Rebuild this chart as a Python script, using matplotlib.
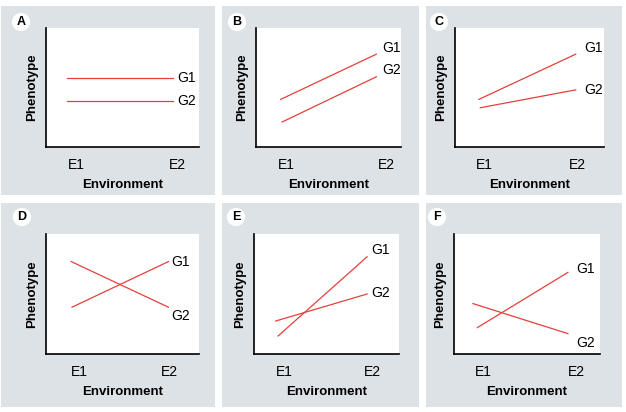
import matplotlib.pyplot as plt
from matplotlib.patches import Rectangle

plt.rcParams["font.family"] = ["Liberation Sans", "DejaVu Sans"]

W, H = 626, 412

# panel data (y on a 0-10 scale, x as fraction of the axis)
panels = ["A", "B", "C", "D", "E", "F"]
g1_start = [5.8, 4.0, 4.0, 3.9, 1.5, 2.2]
g1_end = [5.8, 7.8, 7.8, 7.7, 8.1, 6.8]
g2_start = [3.9, 2.1, 3.3, 7.7, 2.75, 4.2]
g2_end = [3.9, 5.9, 4.8, 3.9, 5.0, 1.7]
g1_x0 = [0.14, 0.17, 0.16, 0.17, 0.166, 0.16]
g2_x0 = [0.14, 0.18, 0.17, 0.165, 0.15, 0.13]
line_x1 = [0.83, 0.83, 0.81, 0.80, 0.78, 0.78]
g1_label_y = [5.8, 8.3, 8.3, 7.7, 8.7, 7.1]
g2_label_y = [3.9, 6.5, 4.8, 3.2, 5.1, 0.9]
label_x = [0.855, 0.87, 0.87, 0.82, 0.81, 0.84]
e1_pos = [0.20, 0.21, 0.20, 0.22, 0.21, 0.20]
e2_pos = [0.86, 0.90, 0.82, 0.81, 0.82, 0.84]
tick_labels = ["E1", "E2"]

# layout in pixels (left, top, right, bottom)
gray_boxes = [(1, 6, 215, 195), (222, 6, 419, 195), (426, 6, 622, 195),
              (1, 203, 215, 407), (222, 203, 419, 407), (426, 203, 622, 407)]
plot_boxes = [(46, 28, 199, 147), (256, 28, 401, 147), (455, 28, 604, 147),
              (46, 234, 199, 354), (254, 234, 399, 354), (454, 234, 600, 354)]
badge_xy = [(21, 22), (237, 22), (439, 22), (22, 217), (236, 217), (437, 217)]

red = "#e3403c"
gray = "#dde2e6"

fig = plt.figure(figsize=(W / 100, H / 100), dpi=100)

for (l, t, r, b) in gray_boxes:
    fig.patches.append(Rectangle((l / W, 1 - b / H), (r - l) / W, (b - t) / H,
                                 transform=fig.transFigure, facecolor=gray,
                                 edgecolor="none", zorder=-10))

for i, name in enumerate(panels):
    l, t, r, b = plot_boxes[i]
    ax = fig.add_axes([l / W, 1 - b / H, (r - l) / W, (b - t) / H])
    ax.set_xlim(0, 1)
    ax.set_ylim(0, 10)
    ax.plot([g1_x0[i], line_x1[i]], [g1_start[i], g1_end[i]], color=red, lw=0.9)
    ax.plot([g2_x0[i], line_x1[i]], [g2_start[i], g2_end[i]], color=red, lw=0.9)
    ax.text(label_x[i], g1_label_y[i], "G1", fontsize=10, ha="left", va="center")
    ax.text(label_x[i], g2_label_y[i], "G2", fontsize=10, ha="left", va="center")

    ax.set_xticks([e1_pos[i], e2_pos[i]])
    ax.set_xticklabels(tick_labels, fontsize=10)
    ax.set_yticks([])
    ax.tick_params(axis="x", length=0, pad=8)
    ax.spines["top"].set_visible(False)
    ax.spines["right"].set_visible(False)
    ax.spines["left"].set_linewidth(1.2)
    ax.spines["bottom"].set_linewidth(1.2)
    ax.set_xlabel("Environment", fontsize=9.5, fontweight="bold", labelpad=5)
    ax.set_ylabel("Phenotype", fontsize=9.5, fontweight="bold", labelpad=6)

    bx, by = badge_xy[i]
    fig.text(bx / W, 1 - by / H, name, fontsize=9, fontweight="bold",
             ha="center", va="center",
             bbox=dict(boxstyle="circle,pad=0.25", facecolor="white", edgecolor="none"))

fig.savefig("out.png", dpi=100)
